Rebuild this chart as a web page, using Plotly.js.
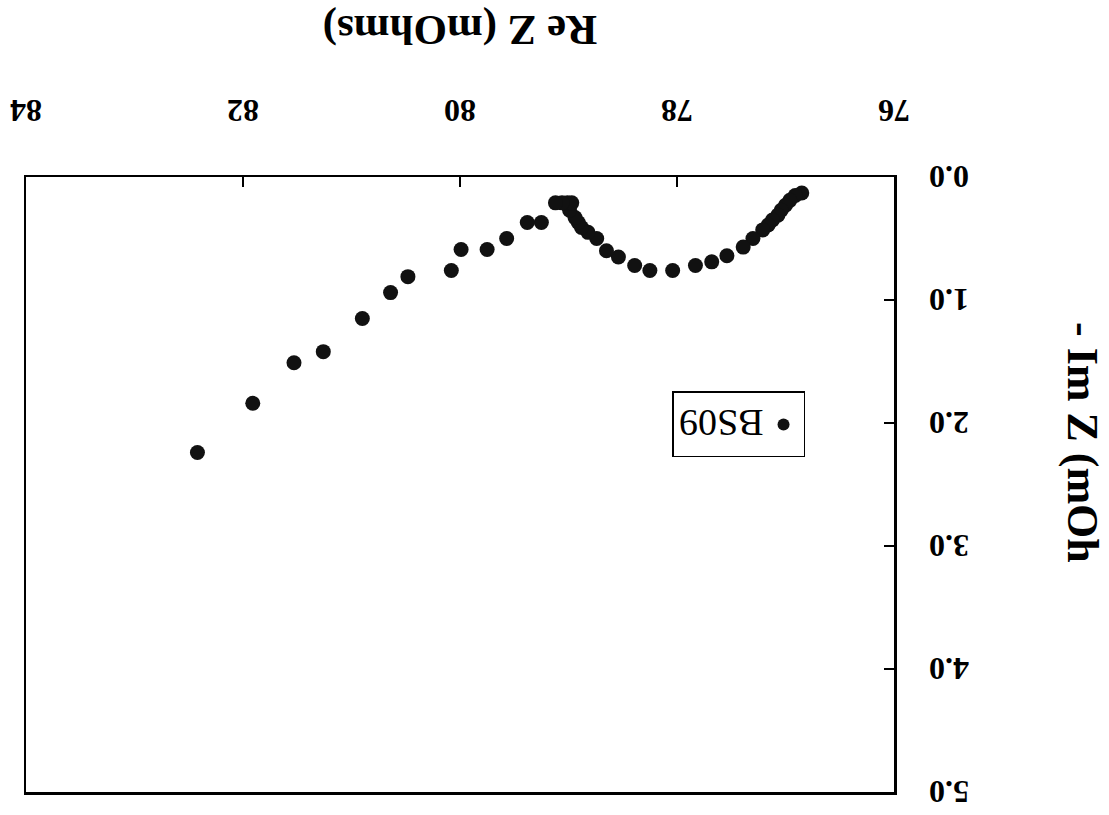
<!DOCTYPE html>
<html>
<head>
<meta charset="utf-8">
<script src="https://cdn.plot.ly/plotly-3.0.1.min.js"></script>
<style>
  html, body { margin: 0; padding: 0; background: #ffffff; }
  #wrap { width: 1109px; height: 815px; transform: rotate(180deg); transform-origin: 50% 50%; }
  #chart { width: 1109px; height: 815px; }
</style>
</head>
<body>
<div id="wrap"><div id="chart"></div></div>
<script>
// Re Z (mOhms) values
const reZ = [76.85, 76.91, 76.96, 77.00, 77.04, 77.07, 77.12, 77.16, 77.21, 77.30,
             77.39, 77.54, 77.68, 77.83, 78.04, 78.25, 78.39, 78.54, 78.65, 78.74,
             78.82, 78.88, 78.91, 78.94, 78.99, 79.01, 78.97, 79.06, 79.12,
             79.25, 79.38, 79.57, 79.75, 79.99, 80.08, 80.48, 80.64, 80.90, 81.26,
             81.53, 81.91, 82.42];
// - Im Z values
const imZ = [0.13, 0.15, 0.19, 0.23, 0.27, 0.31, 0.35, 0.39, 0.43, 0.50,
             0.57, 0.64, 0.69, 0.72, 0.76, 0.76, 0.72, 0.65, 0.60, 0.50,
             0.45, 0.41, 0.37, 0.33, 0.27, 0.21, 0.21, 0.21, 0.21,
             0.37, 0.37, 0.50, 0.59, 0.59, 0.76, 0.81, 0.94, 1.15, 1.42,
             1.51, 1.84, 2.24];
const seriesName = 'BS09';
const xTicks = [76, 78, 80, 82, 84];
const yTicks = [0.0, 1.0, 2.0, 3.0, 4.0, 5.0];
const yTickText = ['0.0', '1.0', '2.0', '3.0', '4.0', '5.0'];

const serif = '"Liberation Serif", "Times New Roman", serif';

const trace = {
  x: reZ, y: imZ, name: seriesName, type: 'scatter', mode: 'markers',
  marker: { color: '#111111', size: 15, symbol: 'circle' },
  showlegend: true
};

const layout = {
  width: 1109, height: 815,
  margin: { l: 215, r: 26, t: 23, b: 177 },
  paper_bgcolor: '#ffffff', plot_bgcolor: '#ffffff',
  font: { family: serif, color: '#000000' },
  xaxis: {
    range: [76, 84], tickvals: xTicks, ticktext: xTicks.map(String),
    showgrid: false, zeroline: false,
    showline: true, mirror: true, linecolor: '#000000', linewidth: 2.5,
    ticks: 'inside', ticklen: 10, tickwidth: 1.5, tickcolor: '#000000',
    ticklabelstandoff: 36,
    tickfont: { family: serif, size: 32, color: '#000000', weight: 'bold' },
    title: { text: '<b>Re Z (mOhms)</b>', font: { family: serif, size: 43, color: '#000000' }, standoff: 48 },
    automargin: false
  },
  yaxis: {
    range: [0, 5], tickvals: yTicks, ticktext: yTickText,
    showgrid: false, zeroline: false,
    showline: true, mirror: true, linecolor: '#000000', linewidth: 2.5,
    ticks: 'inside', ticklen: 10, tickwidth: 1.5, tickcolor: '#000000',
    ticklabelstandoff: 26,
    tickfont: { family: serif, size: 32, color: '#000000', weight: 'bold' },
    automargin: false
  },
  annotations: [{
    text: '<b>- Im Z (mOh</b>', textangle: -90,
    xref: 'paper', yref: 'paper', x: -0.217, y: 0.432,
    xanchor: 'center', yanchor: 'middle', showarrow: false,
    font: { family: serif, size: 44, color: '#000000' }
  }],
  legend: {
    x: 0.1025, y: 0.402, xanchor: 'left', yanchor: 'middle',
    bgcolor: '#ffffff', bordercolor: '#000000', borderwidth: 1.5,
    font: { family: serif, size: 38, color: '#000000' },
    itemsizing: 'constant'
  }
};

Plotly.newPlot('chart', [trace], layout, { displayModeBar: false, staticPlot: true });
</script>
</body>
</html>
